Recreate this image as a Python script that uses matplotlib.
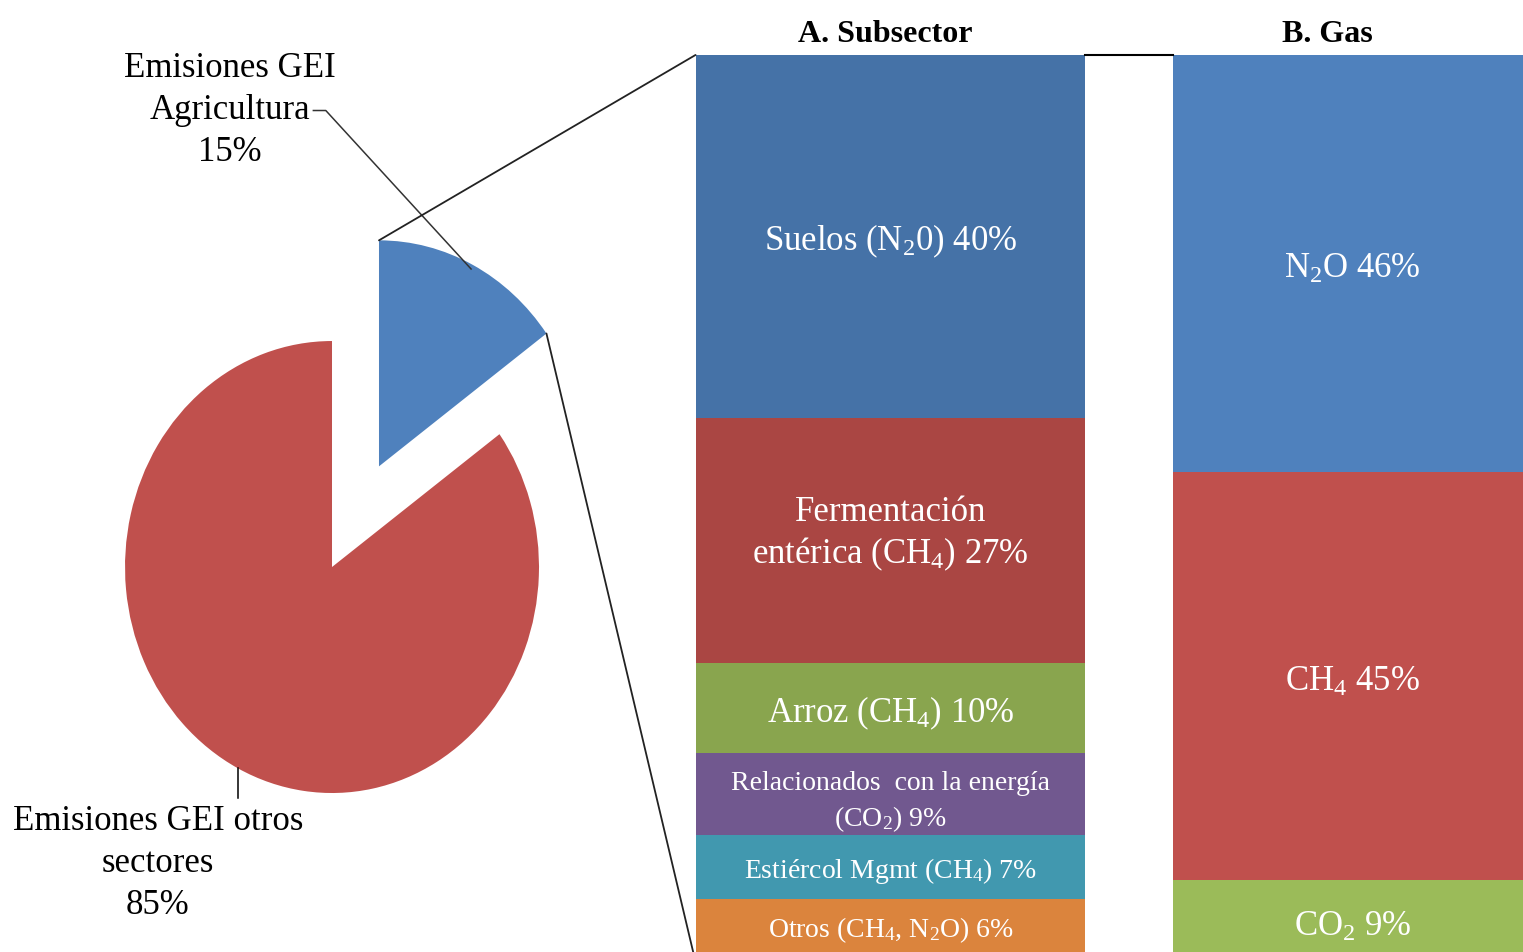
import matplotlib
matplotlib.use('Agg')
import matplotlib.pyplot as plt
from matplotlib.patches import ConnectionPatch
import numpy as np

plt.rcParams['font.family'] = ['Liberation Serif', 'DejaVu Serif']
plt.rcParams['mathtext.fontset'] = 'custom'
plt.rcParams['mathtext.rm'] = 'Liberation Serif'
plt.rcParams['mathtext.it'] = 'Liberation Serif:italic'
plt.rcParams['mathtext.bf'] = 'Liberation Serif:bold'

# pie: total emissions
pie_labels = ['Emisiones GEI\nAgricultura\n15%', 'Emisiones GEI otros\nsectores\n85%']
pie_values = [15, 85]
pie_colors = ['#4F81BD', '#C0504D']

# bar A: agricultural subsectors (top to bottom)
sub_labels = ['Suelos (N$_2$0) 40%', 'Fermentación\nentérica (CH$_4$) 27%', 'Arroz (CH$_4$) 10%',
              'Relacionados  con la energía\n(CO$_2$) 9%', 'Estiércol Mgmt (CH$_4$) 7%',
              'Otros (CH$_4$, N$_2$O) 6%']
sub_values = [40, 27, 10, 9, 7, 6]
sub_colors = ['#4572A7', '#AA4643', '#89A54E', '#71588F', '#4198AF', '#DB843D']
sub_sizes = [25, 25, 25, 20, 20, 20]

# bar B: by gas (top to bottom)
gas_labels = ['N$_2$O 46%', 'CH$_4$ 45%', 'CO$_2$ 9%']
gas_values = [46, 45, 9]
gas_colors = ['#4F81BD', '#C0504D', '#9BBB59']

fig = plt.figure(figsize=(15.23, 9.52), dpi=100)

# pie axes (image is slightly stretched vertically, so aspect is left auto)
ax1 = fig.add_axes([0, 0, 1, 1])
explode = 0.5
wedges, _ = ax1.pie(pie_values, colors=pie_colors, startangle=90, counterclock=False,
                    explode=[explode, 0], radius=1, wedgeprops=dict(linewidth=0))
ax1.set_aspect('auto')
ax1.set_xlim(-1.604, 5.754)
ax1.set_ylim(-1.7035, 2.509)
ax1.axis('off')

# wedge angles
a0 = 90
a1 = 90 - 360 * pie_values[0] / sum(pie_values)
mid_b = np.radians((a0 + a1) / 2)
off = np.array([np.cos(mid_b), np.sin(mid_b)]) * explode
mid_r = np.radians(a1 - 360 * pie_values[1] / sum(pie_values) / 2)

# leader lines and labels
p_b = off + np.array([np.cos(mid_b), np.sin(mid_b)]) * 0.98
ax1.plot([-0.09, -0.03, p_b[0]], [2.02, 2.02, p_b[1]], color='#333333', lw=1.1)
ax1.text(-0.493, 2.022, pie_labels[0], ha='center', va='center', fontsize=25,
         linespacing=1.36)
p_r = np.array([np.cos(mid_r), np.sin(mid_r)])
ax1.plot([p_r[0], p_r[0]], [p_r[1], -1.02], color='black', lw=1.1)
ax1.text(-0.841, -1.314, pie_labels[1], ha='center', va='center', fontsize=25,
         linespacing=1.36)

# stacked bars
ax2 = fig.add_axes([0, 0, 1, 1])
ax2.patch.set_alpha(0)
widths = [0.844, 0.779]
bottom = 100
for lab, v, c, fs in zip(sub_labels, sub_values, sub_colors, sub_sizes):
    bottom -= v
    ax2.bar(0, v, width=widths[0], bottom=bottom, color=c, linewidth=0)
    if '\n' in lab and fs > 20:
        ax2.text(0, bottom + v / 2 + 0.6, lab, ha='center', va='center', color='white',
                 fontsize=fs, linespacing=1.25)
    else:
        ax2.text(0, bottom + v / 2, lab, ha='center', va='center_baseline', color='white',
                 fontsize=fs, linespacing=1.4)
bottom = 100
for lab, v, c in zip(gas_labels, gas_values, gas_colors):
    bottom -= v
    ax2.bar(1, v, width=widths[1], bottom=bottom, color=c, linewidth=0)
    ax2.text(1, bottom + v / 2 - 0.2, lab, ha='center', va='center_baseline', color='white',
             fontsize=25)
ax2.set_xlim(-1.9275, 1.369)
ax2.set_ylim(1.1025, 106.06)
ax2.axis('off')

ax2.text(-0.012, 102.3, 'A. Subsector', ha='center', va='center', fontsize=23,
         fontweight='bold')
ax2.text(0.945, 102.3, 'B. Gas', ha='center', va='center', fontsize=23,
         fontweight='bold')
ax2.plot([widths[0] / 2, 1 - widths[1] / 2], [100, 100], color='black', lw=1.5)

# connectors from the exploded wedge to bar A
top_pt = off + np.array([np.cos(np.radians(a0)), np.sin(np.radians(a0))])
end_pt = off + np.array([np.cos(np.radians(a1)), np.sin(np.radians(a1))])
for pt, yb in [(top_pt, 100), (end_pt, 0)]:
    con = ConnectionPatch(xyA=tuple(pt), coordsA=ax1.transData,
                          xyB=(-widths[0] / 2, yb), coordsB=ax2.transData,
                          color='#222222', lw=1.3)
    fig.add_artist(con)

plt.savefig('out.png', dpi=100)
